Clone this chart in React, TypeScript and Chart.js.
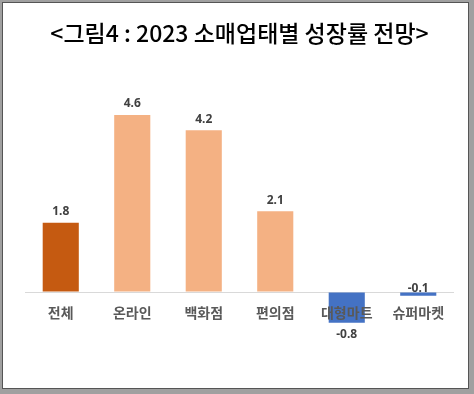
import React, { useEffect, useRef } from "react";
import { Chart, registerables } from "chart.js";

Chart.register(...registerables);

const titleText = "<그림4 : 2023 소매업태별 성장률 전망>";
const categories = ["전체", "온라인", "백화점", "편의점", "대형마트", "슈퍼마켓"];
const growth = [1.8, 4.6, 4.2, 2.1, -0.8, -0.1];
const yMin = -2;
const yMax = 5;

const TOTAL_COLOR = "#C55A11";
const POS_COLOR = "#F4B183";
const NEG_COLOR = "#4472C4";

const labelPlugin = {
  id: "customLabels",
  afterDatasetsDraw(chart: any) {
    const { ctx, scales } = chart;
    const meta = chart.getDatasetMeta(0);
    const zeroY = scales.y.getPixelForValue(0);
    ctx.save();
    ctx.font = "bold 14px 'Noto Sans CJK KR'";
    ctx.fillStyle = "#595959";
    ctx.textAlign = "center";
    ctx.textBaseline = "middle";
    categories.forEach((c, i) => {
      const x = scales.x.getPixelForValue(i);
      ctx.fillText(c, x, zeroY + 21);
    });
    ctx.font = "bold 12px 'Noto Sans'";
    ctx.fillStyle = "#404040";
    meta.data.forEach((bar: any, i: number) => {
      const v = growth[i];
      const txt = v.toFixed(1);
      let y;
      if (v >= 0) y = bar.y - 11;
      else if (v <= -0.5) y = bar.y + 12;
      else y = zeroY - 3;
      ctx.fillText(txt, bar.x, y);
    });
    ctx.restore();
  },
};

export default function App() {
  const ref = useRef<HTMLCanvasElement | null>(null);
  useEffect(() => {
    document.body.style.margin = "0";
    const chart = new Chart(ref.current!, {
      type: "bar",
      data: {
        labels: categories,
        datasets: [
          {
            data: growth,
            backgroundColor: growth.map((v, i) => (i === 0 ? TOTAL_COLOR : v >= 0 ? POS_COLOR : NEG_COLOR)),
            barPercentage: 1,
            categoryPercentage: 0.505,
          },
        ],
      },
      options: {
        responsive: false,
        animation: false,
        layout: { padding: { left: 25, right: 20, top: 3, bottom: 25 } },
        plugins: {
          legend: { display: false },
          tooltip: { enabled: false },
          title: {
            display: true,
            text: titleText,
            color: "#000000",
            font: { family: "'Noto Sans CJK KR'", size: 23, weight: "500" },
            padding: { top: 16.7, bottom: 52.2 },
          },
        },
        scales: {
          x: { display: false },
          y: {
            min: yMin,
            max: yMax,
            display: true,
            ticks: { display: false },
            border: { display: false },
            grid: {
              drawTicks: false,
              lineWidth: 1,
              color: (c: any) => (c.tick && c.tick.value === 0 ? "#D9D9D9" : "rgba(0,0,0,0)"),
            },
          },
        },
      },
      plugins: [labelPlugin],
    });
    return () => chart.destroy();
  }, []);

  return (
    <div style={{ position: "relative", width: 474, height: 394, background: "#A0A0A0" }}>
      <div
        style={{
          position: "absolute",
          left: 2,
          top: 2,
          width: 467,
          height: 387,
          boxSizing: "border-box",
          border: "1px solid #555555",
          background: "#FFFFFF",
        }}
      />
      <canvas ref={ref} width={474} height={394} style={{ position: "absolute", left: 0, top: 0 }} />
    </div>
  );
}
